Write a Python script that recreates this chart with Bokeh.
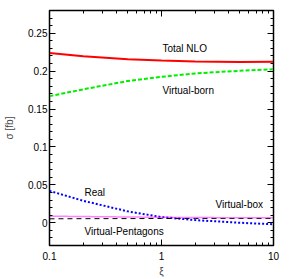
from bokeh.plotting import figure
from bokeh.models import LinearAxis, LogAxis, Range1d, FixedTicker, Label
from bokeh.embed import file_html
from bokeh.resources import INLINE

xi = [0.1, 0.2, 0.5, 1.0, 2.0, 5.0, 10.0]
total_nlo = [0.224, 0.2195, 0.2158, 0.214, 0.2128, 0.2122, 0.2125]
virtual_born = [0.167, 0.176, 0.187, 0.1925, 0.197, 0.2005, 0.2025]
real = [0.042, 0.029, 0.015, 0.0075, 0.0035, 0.0, -0.002]
virtual_pent = [0.0087, 0.0082, 0.0076, 0.0072, 0.0069, 0.0066, 0.0065]
virtual_box = [0.0052, 0.0054, 0.0055, 0.0056, 0.0057, 0.0057, 0.0057]
y_ticks = [0, 0.05, 0.1, 0.15, 0.2, 0.25]
y_tick_labels = {0: "0", 0.05: "0.05", 0.1: "0.1", 0.15: "0.15", 0.2: "0.2", 0.25: "0.25"}
x_ticks = [0.1, 1, 10]
x_tick_labels = {0.1: "0.1", 1: "1", 10: "10"}

FONT = "Liberation Sans"

p = figure(width=281, height=279, x_axis_type="log",
           x_range=Range1d(0.1, 10), y_range=Range1d(-0.03, 0.28),
           output_backend="svg", toolbar_location=None,
           min_border_left=49, min_border_right=8, min_border_top=10, min_border_bottom=30)
p.grid.visible = False
p.outline_line_color = "black"
p.outline_line_width = 1.5
p.background_fill_color = "white"
p.border_fill_color = "white"

def style_axis(ax):
    ax.major_tick_in = 6
    ax.major_tick_out = 0
    ax.minor_tick_in = 3
    ax.minor_tick_out = 0
    ax.axis_line_color = "black"
    ax.major_tick_line_color = "black"
    ax.minor_tick_line_color = "black"
    ax.major_label_text_font = FONT
    ax.major_label_text_font_size = "10px"
    ax.major_label_text_color = "black"
    ax.axis_label_text_font = FONT
    ax.axis_label_text_font_size = "10px"
    ax.axis_label_text_font_style = "normal"

y_minor = [round(-0.03 + 0.01 * i, 3) for i in range(32)]
x_minor = [m * d for d in (0.1, 1.0) for m in range(2, 10)]
yt = FixedTicker(ticks=y_ticks, minor_ticks=y_minor)
xt = FixedTicker(ticks=x_ticks, minor_ticks=x_minor)

p.yaxis.ticker = yt
p.yaxis.major_label_overrides = y_tick_labels
p.yaxis.axis_label = "σ [fb]"
p.yaxis.axis_label_standoff = 10
p.yaxis.major_label_standoff = 2
style_axis(p.yaxis[0])

p.xaxis.ticker = xt
p.xaxis.major_label_overrides = x_tick_labels
p.xaxis.axis_label = "ξ"
p.xaxis.axis_label_standoff = 3
p.xaxis.major_label_standoff = 6
style_axis(p.xaxis[0])

ra = LinearAxis(ticker=yt, major_label_overrides={t: "" for t in y_ticks})
style_axis(ra)
p.add_layout(ra, "right")
ta = LogAxis(ticker=xt, major_label_overrides={t: "" for t in x_ticks})
style_axis(ta)
p.add_layout(ta, "above")

p.line(xi, total_nlo, line_color="#ff0000", line_width=2)
p.line(xi, virtual_born, line_color="#00ee00", line_width=2, line_dash="4 2")
p.line(xi, real, line_color="#0000ff", line_width=2, line_dash="2 2")
p.line(xi, virtual_box, line_color="black", line_width=1, line_dash="5 4")
p.line(xi, virtual_pent, line_color="#ff00ff", line_width=1.5, line_dash="1 1")

labels = [("Total NLO", 1.02, 0.2305), ("Virtual-born", 1.02, 0.174),
          ("Real", 0.205, 0.0396), ("Virtual-box", 3.03, 0.0245),
          ("Virtual-Pentagons", 0.205, -0.0117)]
for t, x, y in labels:
    p.add_layout(Label(x=x, y=y, text=t, text_font=FONT, text_font_size="10px",
                       text_color="black", text_baseline="middle"))

open("out.html", "w").write(file_html(p, INLINE))
